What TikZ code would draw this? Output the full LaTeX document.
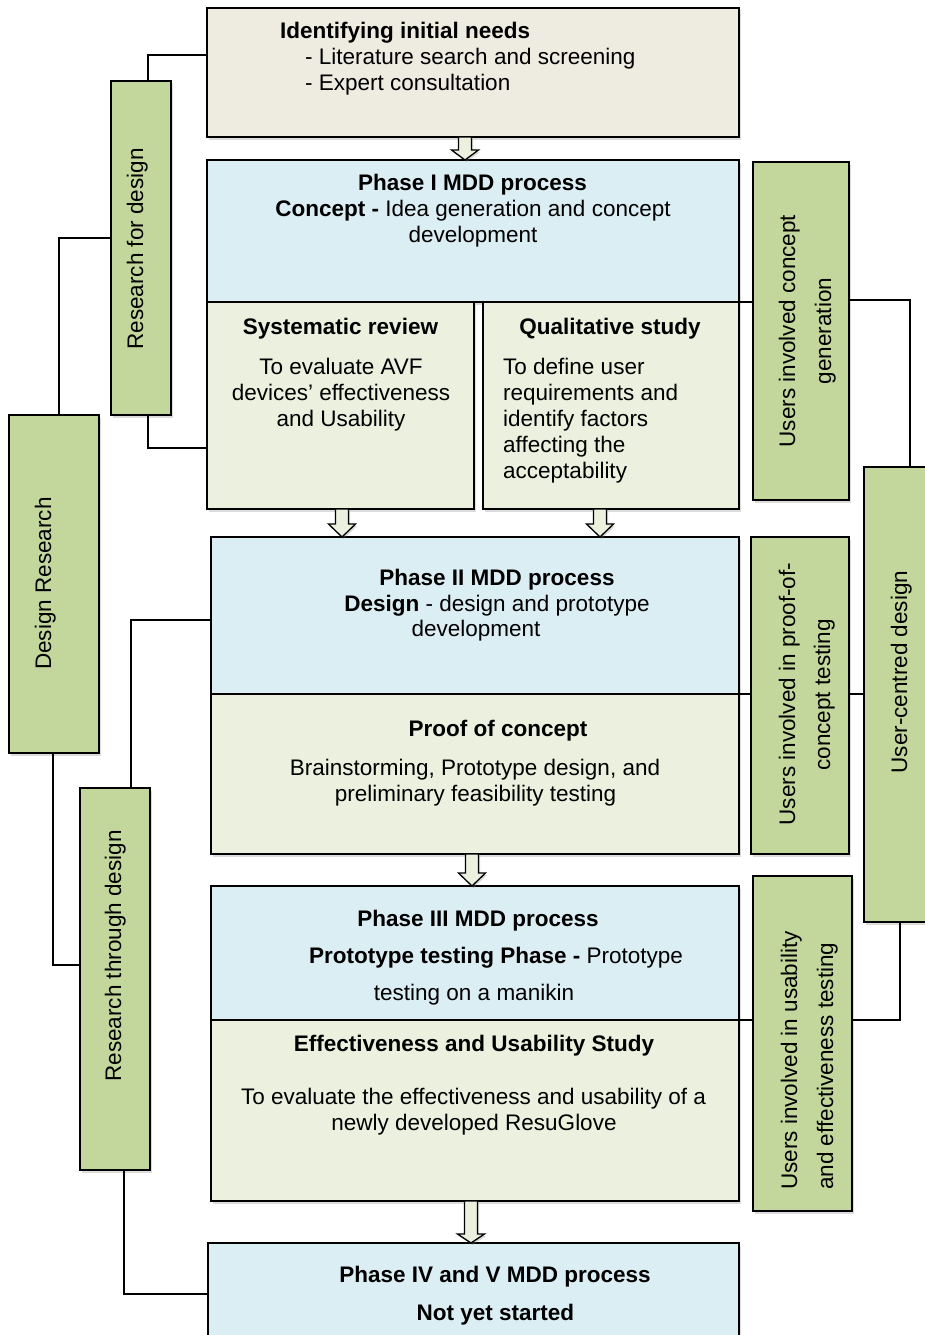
\documentclass[tikz,border=0pt]{standalone}
\usepackage{fontspec}
\setmainfont{Liberation Sans}
\usetikzlibrary{calc,shadows}

\definecolor{needsfill}{HTML}{EEECE1}
\definecolor{phasefill}{HTML}{DBEEF4}
\definecolor{studyfill}{HTML}{EBF1DE}
\definecolor{sidefill}{HTML}{C3D69B}

\tikzset{
  box/.style={draw=black, line width=1.5pt, inner sep=0pt, outer sep=0pt,
    drop shadow={opacity=0.28, shadow xshift=2pt, shadow yshift=-2.5pt}},
  needsbox/.style={box, fill=needsfill},
  phasebox/.style={box, fill=phasefill},
  studybox/.style={box, fill=studyfill},
  sidebox/.style={box, fill=sidefill},
  link/.style={draw=black, line width=1.4pt},
  arrowbody/.style={draw=black, line width=1.3pt, fill=studyfill, line join=miter,
    drop shadow={opacity=0.3, shadow xshift=1.5pt, shadow yshift=-2pt}},
  lbl/.style={inner sep=0pt, anchor=base, font=\fontsize{22.5}{26}\selectfont},
  lblw/.style={lbl, anchor=base west},
  hd/.style={lbl, font=\fontsize{22.5}{26}\selectfont\bfseries},
  hdw/.style={hd, anchor=base west},
  vlbl/.style={lbl, rotate=90},
  vlblw/.style={lblw, rotate=90}
}

% box from its left, top, right and bottom edges
\newcommand{\mkpanel}[6]{%
  \pgfmathsetmacro{\pnlcx}{(#3+#5)/2}\pgfmathsetmacro{\pnlcy}{(#4+#6)/2}%
  \pgfmathsetmacro{\pnlw}{#5-#3}\pgfmathsetmacro{\pnlh}{#6-#4}%
  \node[#1, minimum width=\pnlw pt, minimum height=\pnlh pt] (#2) at (\pnlcx,\pnlcy) {};}

% hollow block arrow pointing down from #1 to the level of #2, head length #3
\newcommand{\flowarrow}[3]{%
  \path[arrowbody] let \p1=#1, \p2=#2 in
    (\x1-6.5pt,\y1) -- (\x1-6.5pt,\y2+#3pt) -- (\x1-13.5pt,\y2+#3pt) -- (\x1,\y2)
    -- (\x1+13.5pt,\y2+#3pt) -- (\x1+6.5pt,\y2+#3pt) -- (\x1+6.5pt,\y1) -- cycle;}

\begin{document}
\begin{tikzpicture}[x=1pt, y=-1pt]
\useasboundingbox (0,0) rectangle (925,1335);
\clip (0,0) rectangle (925,1335);

% side columns
\mkpanel{sidebox}{rfd}{111}{81}{171}{415}
\mkpanel{sidebox}{dr}{9}{415}{99}{753}
\mkpanel{sidebox}{rtd}{80}{788}{150}{1170}
\mkpanel{sidebox}{ucd}{864}{467}{934}{922}
\mkpanel{sidebox}{uicg}{753}{162}{849}{500}
\mkpanel{sidebox}{uipoc}{751}{537}{849}{854}
\mkpanel{sidebox}{uiu}{753}{876}{852}{1211}

% main column
\mkpanel{needsbox}{needs}{207}{8}{739}{137}
\mkpanel{phasebox}{p1}{207}{160}{739}{302}
\mkpanel{studybox}{sysrev}{207}{302}{474}{509}
\mkpanel{studybox}{qual}{483}{302}{739}{509}
\mkpanel{phasebox}{p2}{211}{537}{739}{694}
\mkpanel{studybox}{poc}{211}{694}{739}{854}
\mkpanel{phasebox}{p3}{211}{886}{739}{1020}
\mkpanel{studybox}{eff}{211}{1020}{739}{1201}
\mkpanel{phasebox}{p4}{208}{1243}{739}{1345}

% connectors on the left
\draw[link] ([xshift=7pt]rfd.north) |- ([yshift=17.5pt]needs.west);
\draw[link] ([xshift=7pt]rfd.south) |- ([yshift=-42.5pt]sysrev.west);
\draw[link] ([xshift=5pt]dr.north) |- ([yshift=10pt]rfd.west);
\draw[link] ([xshift=-1pt]dr.south) |- ([yshift=14pt]rtd.west);
\draw[link] ([xshift=16pt]rtd.north) |- ([yshift=-4.5pt]p2.west);
\draw[link] ([xshift=9pt]rtd.south) |- (p4.west);

% connectors on the right
\draw[link] (p1.south east) -- (p1.south east -| uicg.west);
\draw[link] ([yshift=31pt]uicg.east) -| ([xshift=11pt]ucd.north);
\draw[link] (p2.south east) -- (p2.south east -| uipoc.west);
\draw[link] (p2.south east -| uipoc.east) -- (p2.south east -| ucd.west);
\draw[link] (p3.south east) -- (p3.south east -| uiu.west);
\draw[link] (p3.south east -| uiu.east) -| ([xshift=1pt]ucd.south);

% flow arrows between stages
\flowarrow{([xshift=-8pt]needs.south)}{(p1.north)}{10}
\flowarrow{([xshift=1.5pt]sysrev.south)}{(p2.north)}{13}
\flowarrow{([xshift=-11pt]qual.south)}{(p2.north)}{13}
\flowarrow{([xshift=-3pt]poc.south)}{(p3.north)}{13}
\flowarrow{([xshift=-4pt]eff.south)}{(p4.north)}{9}

% texts of the main column
\node[hdw] (tn1) at (280,38.5) {Identifying initial needs};
\node[lblw] (tn2) at (305,64.5) {- Literature search and screening};
\node[lblw] (tn3) at (305,90.5) {- Expert consultation};

\node[hd] (ta1) at (472.5,190.5) {Phase I MDD process};
\node[lbl] (ta2) at (473,216.5) {\textbf{Concept -} Idea generation and concept};
\node[lbl] (ta3) at (473,242.5) {development};

\node[hd] (ts1) at (340.5,334) {Systematic review};
\node[lbl] (ts2) at (341,374) {To evaluate AVF};
\node[lbl] (ts3) at (341,400) {devices’ effectiveness};
\node[lbl] (ts4) at (341,426) {and Usability};

\node[hd] (tq1) at (610,334) {Qualitative study};
\node[lblw] (tq2) at (503,374) {To define user};
\node[lblw] (tq3) at (503,400) {requirements and};
\node[lblw] (tq4) at (503,426) {identify factors};
\node[lblw] (tq5) at (503,452) {affecting the};
\node[lblw] (tq6) at (503,478) {acceptability};

\node[hd] (tb1) at (497,585) {Phase II MDD process};
\node[lbl] (tb2) at (497,611) {\textbf{Design} - design and prototype};
\node[lbl] (tb3) at (476,636) {development};

\node[hd] (tp1) at (498,736) {Proof of concept};
\node[lbl] (tp2) at (475,775) {Brainstorming, Prototype design, and};
\node[lbl] (tp3) at (475.5,801) {preliminary feasibility testing};

\node[hd] (tc1) at (478,926) {Phase III MDD process};
\node[lbl] (tc2) at (496,963) {\textbf{Prototype testing Phase -} Prototype};
\node[lbl] (tc3) at (474,1000) {testing on a manikin};

\node[hd] (te1) at (474,1051) {Effectiveness and Usability Study};
\node[lbl] (te2) at (473.5,1104) {To evaluate the effectiveness and usability of a};
\node[lbl] (te3) at (474,1130) {newly developed ResuGlove};

\node[hd] (td1) at (495,1282) {Phase IV and V MDD process};
\node[hd] (td2) at (495.5,1320) {Not yet started};

% rotated labels of the side columns
\node[vlbl] (vr1) at (143,249) {Research for design};
\node[vlbl] (vr2) at (51,583.5) {Design Research};
\node[vlbl] (vr3) at (121,956) {Research through design};
\node[vlbl] (vr4) at (907,672) {User-centred design};
\node[vlbl] (vu1) at (795,331) {Users involved concept};
\node[vlbl] (vu2) at (831,331) {generation};
\node[vlbl] (vu3) at (795,694) {Users involved in proof-of-};
\node[vlbl] (vu4) at (830,695) {concept testing};
\node[vlblw] (vu5) at (797,1190) {Users involved in usability};
\node[vlblw] (vu6) at (833,1190) {and effectiveness testing};
\end{tikzpicture}
\end{document}
